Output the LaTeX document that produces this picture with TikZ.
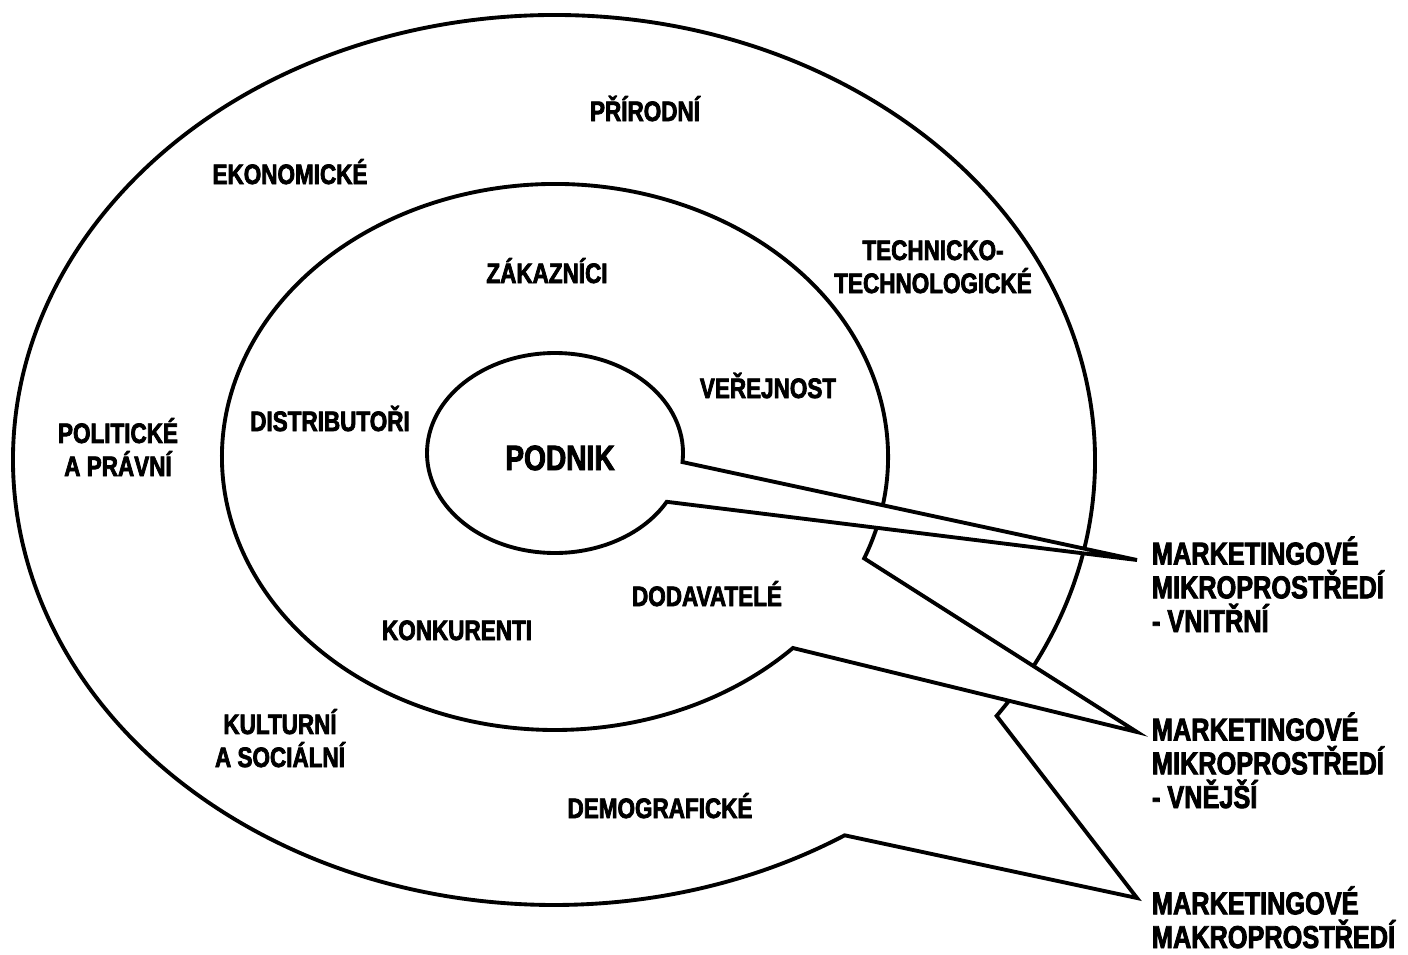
\documentclass[tikz,border=0pt]{standalone}
\usepackage{fontspec}
\newfontfamily\lblfont{Liberation Sans}[FakeStretch=0.8, BoldFeatures={FakeBold=2.6}]

\begin{document}
\begin{tikzpicture}[x=0.02cm, y=-0.02cm, line width=2.2pt]

\tikzstyle{bubble}=[draw, fill=white, line join=miter]
\tikzstyle{lbl}=[font=\lblfont\bfseries\fontsize{16}{18.8}\selectfont, align=center, anchor=base, inner sep=0pt]
\tikzstyle{side}=[font=\lblfont\bfseries\fontsize{18}{19.2}\selectfont, align=left, anchor=base west, inner sep=0pt]

\useasboundingbox (0,0) rectangle (1408,954);

% centres of the ellipses and tips of the bubbles
\coordinate (cMak) at (554,460);
\coordinate (cMik) at (555,457);
\coordinate (cPod) at (555,453);
\coordinate (tipVni) at (1137,560);
\coordinate (tipVne) at (1137,732);
\coordinate (tipMak) at (1137,898);

\draw [bubble] (tipMak) -- ([shift={(cMak)}]35.1:541 and 445) arc [start angle=35.1, end angle=-302.5, x radius=541, y radius=445] -- cycle;
\draw [bubble] (tipVne) -- ([shift={(cMik)}]21.8:333 and 273) arc [start angle=21.8, end angle=-315.6, x radius=333, y radius=273] -- cycle;
\draw [bubble] (tipVni) -- ([shift={(cPod)}]5.2:128 and 100) arc [start angle=5.2, end angle=-330.8, x radius=128, y radius=100] -- cycle;

\node (pod) [lbl, font=\lblfont\bfseries\fontsize{20}{22}\selectfont] at (560,470) {PODNIK};

\node (zak) [lbl] at (547,283) {ZÁKAZNÍCI};
\node (ver) [lbl] at (768,398) {VEŘEJNOST};
\node (dis) [lbl] at (330,431) {DISTRIBUTOŘI};
\node (dod) [lbl] at (707,606) {DODAVATELÉ};
\node (kon) [lbl] at (457,640) {KONKURENTI};

\node (pri) [lbl] at (645,121) {PŘÍRODNÍ};
\node (eko) [lbl] at (290,184) {EKONOMICKÉ};
\node (tec) [lbl] at (933,293) {TECHNICKO-\\TECHNOLOGICKÉ};
\node (pol) [lbl] at (118,476) {POLITICKÉ\\A PRÁVNÍ};
\node (kul) [lbl] at (280,767) {KULTURNÍ\\A SOCIÁLNÍ};
\node (dem) [lbl] at (660,818) {DEMOGRAFICKÉ};

\node (lVni) [side] at (1150,632) {MARKETINGOVÉ\\MIKROPROSTŘEDÍ\\- VNITŘNÍ};
\node (lVne) [side] at (1150,808) {MARKETINGOVÉ\\MIKROPROSTŘEDÍ\\- VNĚJŠÍ};
\node (lMak) [side] at (1150,948) {MARKETINGOVÉ\\MAKROPROSTŘEDÍ};

\end{tikzpicture}
\end{document}
